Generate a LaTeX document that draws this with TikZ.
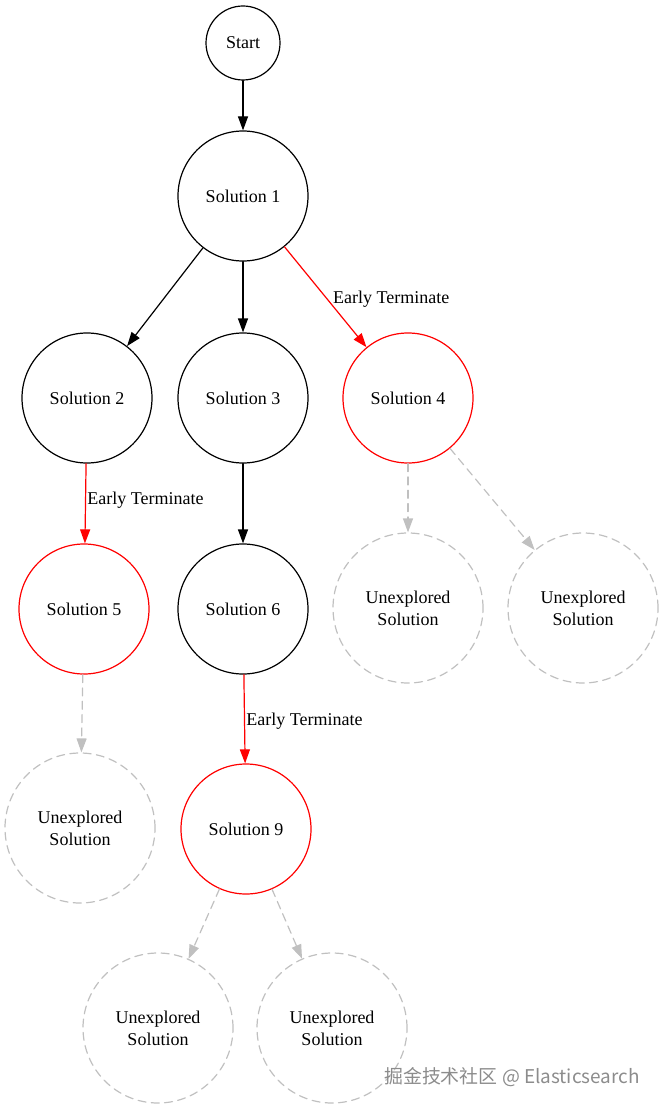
\documentclass[tikz,border=0pt]{standalone}
\usepackage{fontspec}
\setmainfont{Liberation Serif}
\newfontfamily\cjk{Noto Sans CJK SC}
\usetikzlibrary{arrows.meta}
\definecolor{lgray}{RGB}{192,192,192}
\definecolor{wmgray}{RGB}{140,140,140}

\begin{document}
\begin{tikzpicture}[line cap=round,line join=round,x=0.75pt,y=-0.75pt,
	>={Triangle[length=10.5pt,width=7.5pt]},
	every node/.style={font=\fontsize{13.5}{16.5}\selectfont},
	sol/.style={circle,draw,line width=0.9pt,minimum size=97.5pt,inner sep=0pt},
	cut/.style={sol,draw=red},
	ghost/.style={circle,draw=lgray,line width=0.9pt,dash pattern=on 6pt off 4pt,minimum size=112.5pt,inner sep=0pt,align=center},
	go/.style={->,line width=0.9pt},
	term/.style={go,red},
	skip/.style={->,lgray,line width=0.9pt,dash pattern=on 6pt off 4pt},
	lbl/.style={anchor=west,inner sep=1pt,black}]
	\useasboundingbox (0,0) rectangle (664,1109);
	
	% solutions
	\node[sol,minimum size=55.5pt] (start) at (243,43) {Start};
	\node[sol] (s1) at (243,196) {Solution 1};
	\node[sol] (s2) at (87,398) {Solution 2};
	\node[sol] (s3) at (243,398) {Solution 3};
	\node[cut] (s4) at (408,398) {Solution 4};
	\node[cut] (s5) at (84,609) {Solution 5};
	\node[sol] (s6) at (243,609) {Solution 6};
	\node[cut] (s9) at (246,829) {Solution 9};
	
	% unexplored
	\node[ghost] (u4a) at (408,608) {Unexplored\\Solution};
	\node[ghost] (u4b) at (583,608) {Unexplored\\Solution};
	\node[ghost] (u5) at (80,828) {Unexplored\\Solution};
	\node[ghost] (u9a) at (158,1028) {Unexplored\\Solution};
	\node[ghost] (u9b) at (332,1028) {Unexplored\\Solution};
	
	\draw[go] (start) -- (s1);
	\draw[go] (s1) -- (s2);
	\draw[go] (s1) -- (s3);
	\draw[term] (s1) -- node[lbl,pos=0.52,xshift=3pt] {Early Terminate} (s4);
	\draw[term] (s2) -- node[lbl,pos=0.46] {Early Terminate} (s5);
	\draw[go] (s3) -- (s6);
	\draw[term] (s6) -- node[lbl,pos=0.52] {Early Terminate} (s9);
	
	\draw[skip] (s4) -- (u4a);
	\draw[skip] (s4) -- (u4b);
	\draw[skip] (s5) -- (u5);
	\draw[skip] (s9) -- (u9a);
	\draw[skip] (s9) -- (u9b);
	
	\node[wmgray,font=\cjk\fontsize{14.2}{16}\selectfont] (wm) at (512,1077) {掘金技术社区 @ Elasticsearch};
\end{tikzpicture}
\end{document}
